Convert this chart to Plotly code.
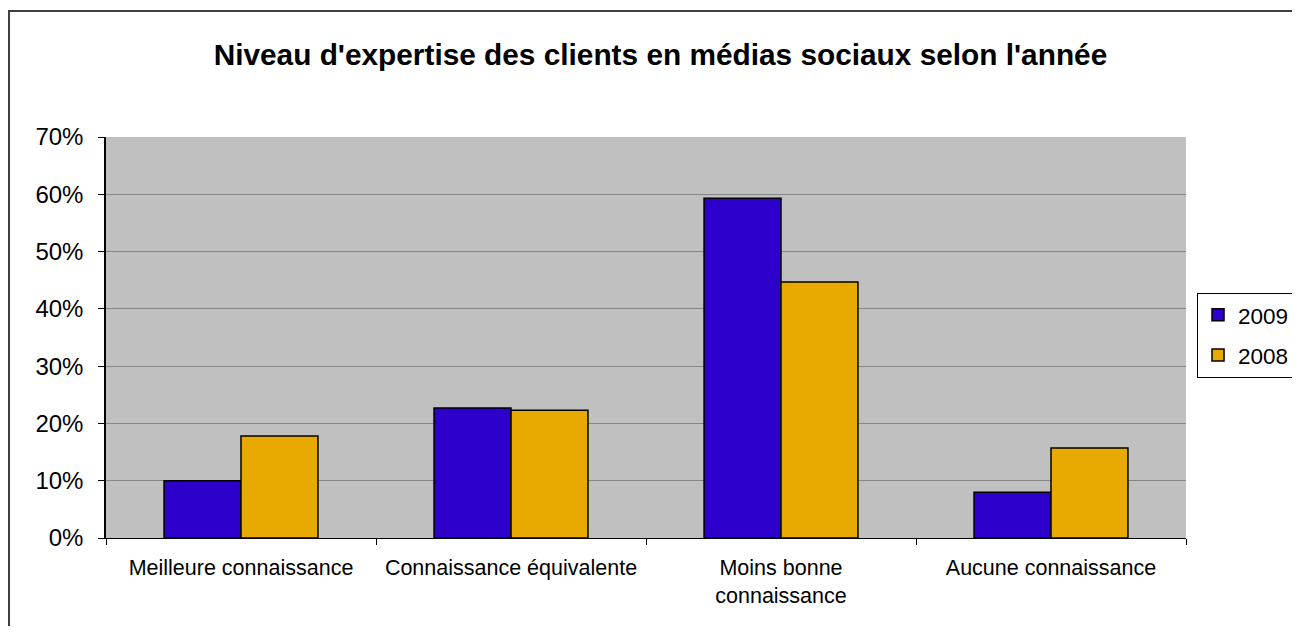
import plotly.graph_objects as go

categories = ['Meilleure connaissance', 'Connaissance équivalente',
              'Moins bonne<br>connaissance', 'Aucune connaissance']
y2009 = [0.100, 0.227, 0.593, 0.080]
y2008 = [0.178, 0.223, 0.447, 0.157]
tick_vals = [0, 0.1, 0.2, 0.3, 0.4, 0.5, 0.6, 0.7]
title = "Niveau d'expertise des clients en médias sociaux selon l'année"

fig = go.Figure()
fig.add_trace(go.Bar(x=categories, y=y2009, name='2009', legendgroup='a',
                     marker=dict(color='rgb(46,0,204)', line=dict(color='black', width=1.5))))
fig.add_trace(go.Bar(x=categories, y=y2008, name='2008', legendgroup='b',
                     marker=dict(color='rgb(232,170,0)', line=dict(color='black', width=1.5))))

# page has an 8px body margin; figure is sized so the page does not scroll
fig.update_layout(
    width=1292, height=618,
    margin=dict(l=98, r=114, t=129, b=88, autoexpand=False),
    paper_bgcolor='white',
    plot_bgcolor='rgb(192,192,192)',
    barmode='group', bargap=0.43, bargroupgap=0,
    font=dict(family='Liberation Sans, Arial', color='black'),
    title=dict(text='<b>' + title + '</b>', x=0.505, xanchor='center',
               y=1 - 47 / 618, yanchor='middle', font=dict(size=29.8, color='black')),
    xaxis=dict(showline=True, linecolor='black', linewidth=1, ticks='outside',
               tickson='boundaries', ticklen=6, tickcolor='black',
               ticklabelstandoff=10,
               tickfont=dict(size=21.5), showgrid=False),
    yaxis=dict(range=[0, 0.7], tickvals=tick_vals, tickformat='.0%',
               showline=True, linecolor='black', linewidth=1.5, ticks='outside',
               ticklen=6, tickcolor='black', tickfont=dict(size=24),
               ticklabelstandoff=10,
               showgrid=True, gridcolor='rgb(134,134,134)', gridwidth=1,
               zeroline=False),
    legend=dict(x=1.0102, xanchor='left', y=0.506, yanchor='middle',
                bgcolor='white', bordercolor='black', borderwidth=1,
                font=dict(size=22.5), tracegroupgap=8),
)

# outer frame of the chart
fig.add_shape(type='rect', xref='paper', yref='paper',
              x0=(1 - 98) / 1080, x1=1.3, y0=-0.4, y1=1 + 126 / 401,
              line=dict(color='rgb(64,64,64)', width=2), layer='below')

fig.write_html("out.html")
